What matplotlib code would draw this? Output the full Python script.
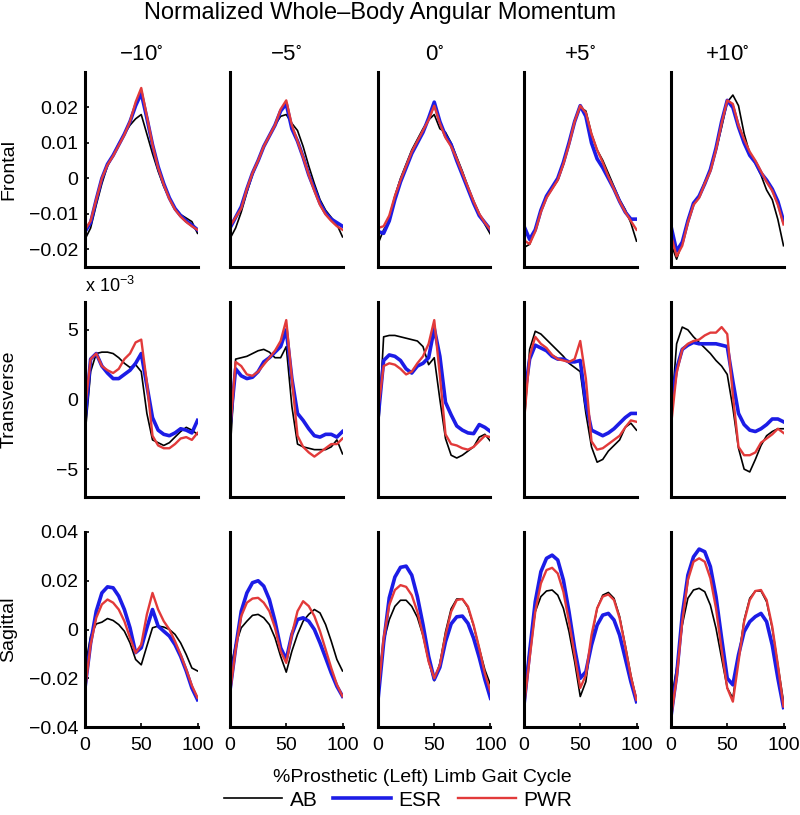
import matplotlib
matplotlib.use("Agg")
import matplotlib.pyplot as plt
from matplotlib.ticker import FixedLocator, FuncFormatter

plt.rcParams['font.family'] = ['Liberation Sans', 'DejaVu Sans']
plt.rcParams['mathtext.fontset'] = 'custom'
plt.rcParams['mathtext.rm'] = 'Liberation Sans'
plt.rcParams['mathtext.it'] = 'Liberation Sans'

# % gait cycle
gait = [0, 5, 10, 15, 20, 25, 30, 35, 40, 45, 50, 55, 60, 65, 70, 75, 80, 85, 90, 95, 100]
slopes = ['\u221210', '\u22125', '0', '+5', '+10']

# all values below are x 1e-3, one list per slope (-10, -5, 0, +5, +10)
frontal_ab = [
    [-17.2, -14, -7.5, -1.5, 3.5, 6.5, 9.8, 12.5, 15, 16.8, 18, 12.5, 7, 2, -2.3, -5.6, -8.4, -10.2, -11.2, -12.2, -15.5],
    [-17, -14, -9.5, -4, 1, 5, 9, 12, 15, 17.5, 18, 15.5, 13.5, 9, 3.5, -1.5, -6, -9, -11, -13, -16.5],
    [-18.5, -14.5, -12, -5, 0, 4, 8, 11, 14, 16.5, 18, 14, 13, 10, 6, 2, -2.5, -6.5, -10, -13, -15.8],
    [-19.5, -18.6, -14.4, -8.8, -5, -2.8, -0.5, 4, 9.8, 16.3, 20, 19, 12.6, 8, 5.1, 1.4, -2.3, -6, -8.8, -12.6, -17.7],
    [-18.5, -22.8, -18, -11.6, -7, -5.1, -1, 2.3, 7.9, 14.4, 21.5, 23.5, 20.5, 12.6, 7, 4.2, 0.9, -3.3, -6, -11.6, -19],
]
frontal_esr = [
    [-15, -12.5, -6, 0, 4, 6.5, 9.5, 12.5, 16, 20.5, 24, 17, 9.5, 3.3, -1.5, -5.5, -8.5, -10.5, -12, -13.2, -14.5],
    [-14, -11, -8, -3, 1.5, 5, 9, 12, 15, 19, 21, 14, 10.5, 6, 1, -3, -7, -9.8, -11.5, -12.5, -13.5],
    [-15, -15.5, -12, -6, -1, 3, 7, 10, 13, 17, 21.5, 16, 12, 9.5, 5, 1, -3, -7, -10.5, -12.5, -14.5],
    [-13.5, -17.2, -14.5, -9, -5, -2.5, 0, 4.5, 10, 16, 20.5, 17.5, 10, 5.5, 3, 0, -3, -6.5, -9.5, -11.5, -11.5],
    [-13.5, -20.5, -18, -12, -7, -5, -1.5, 2.5, 8.5, 16, 22, 20, 14.5, 10, 6.5, 4.5, 1.5, -0.5, -3, -6.5, -12],
]
frontal_pwr = [
    [-14.5, -12, -6, 0, 3.8, 6.3, 9.3, 12.3, 16, 21.5, 25.5, 17.5, 9.5, 3, -1.8, -5.8, -8.8, -10.8, -12.3, -13.5, -14.5],
    [-13.5, -11, -8.5, -3, 1.5, 5, 9, 12, 15, 19.5, 22, 15, 10.5, 6, 1, -3.5, -7.5, -10.2, -12, -13.5, -14.5],
    [-14, -13.5, -10.5, -5, -0.5, 3.5, 7.5, 10.5, 13.5, 16.5, 20.5, 15.5, 11.5, 9, 5.5, 1.5, -2.5, -6.5, -10, -12.5, -14.5],
    [-17.5, -18.5, -15, -9.5, -5.5, -3, -0.5, 4, 9.5, 16, 20.5, 18.5, 12.5, 8, 4.5, 0.5, -3, -6.5, -9.5, -12, -14.5],
    [-16, -22, -19, -12.5, -7.5, -5.5, -1.5, 2, 8, 15.5, 22, 21, 15, 11, 7.5, 5, 2, -1, -3.5, -7.5, -13],
]

transverse_ab = [
    [-2.6, 2.0, 3.3, 3.4, 3.4, 3.3, 3.0, 2.6, 2.3, 2.5, 2.0, -1.0, -2.9, -3.1, -3.3, -3.1, -2.7, -2.3, -2.0, -2.2, -2.5],
    [-3.9, 2.9, 3.0, 3.1, 3.3, 3.5, 3.6, 3.4, 3.0, 3.0, 3.8, -0.5, -3.2, -3.4, -3.5, -3.6, -3.6, -3.6, -3.4, -2.9, -3.9],
    [-2.8, 4.5, 4.6, 4.6, 4.5, 4.4, 4.3, 4.2, 3.8, 2.5, 3.0, 0.0, -2.8, -4.0, -4.2, -4.0, -3.7, -3.4, -2.7, -2.5, -3.0],
    [-1.9, 3.6, 4.9, 4.7, 4.3, 3.9, 3.5, 3.1, 2.6, 2.3, 2.0, -1.0, -3.4, -4.5, -4.3, -3.7, -3.3, -2.9, -2.0, -1.7, -2.2],
    [-1.2, 4.0, 5.2, 5.0, 4.5, 4.1, 3.7, 3.3, 2.8, 2.4, 1.8, -0.6, -3.5, -5.0, -5.2, -4.3, -3.3, -2.6, -2.3, -2.1, -2.1],
]
transverse_esr = [
    [-1.5, 2.9, 3.3, 2.4, 1.9, 1.5, 1.5, 1.8, 2.1, 2.6, 3.3, 1.0, -1.3, -2.2, -2.5, -2.6, -2.4, -2.1, -2.2, -2.4, -1.5],
    [-1.9, 2.2, 1.7, 1.5, 1.6, 2.0, 2.7, 3.0, 3.4, 3.8, 5.0, 1.5, -1.0, -1.5, -2.1, -2.6, -2.7, -2.5, -2.5, -2.7, -2.3],
    [-1.4, 2.8, 3.2, 3.1, 2.8, 2.2, 1.9, 2.4, 2.6, 3.0, 5.1, 3.1, -0.2, -1.1, -1.9, -2.2, -2.4, -2.45, -1.8, -2.0, -2.3],
    [0.0, 2.9, 3.9, 3.7, 3.5, 3.1, 2.9, 2.9, 2.7, 2.7, 2.8, -0.3, -2.2, -2.4, -2.6, -2.4, -2.1, -1.7, -1.3, -1.0, -1.0],
    [-0.4, 2.2, 3.6, 3.9, 4.1, 4.0, 4.0, 4.0, 4.0, 3.9, 3.8, 1.3, -1.0, -1.8, -2.2, -2.3, -2.1, -1.8, -1.4, -1.4, -1.6],
]
transverse_pwr = [
    [-0.7, 2.9, 3.3, 2.4, 2.1, 1.9, 2.2, 2.9, 3.3, 4.1, 4.3, 1.2, -2.6, -3.3, -3.5, -3.5, -3.2, -2.8, -2.7, -2.9, -2.4],
    [-2.3, 2.7, 2.4, 1.8, 1.7, 2.0, 2.5, 3.0, 3.5, 4.2, 5.7, 1.5, -2.6, -3.4, -3.8, -4.1, -3.8, -3.5, -3.2, -3.2, -2.8],
    [-0.8, 2.4, 2.6, 2.5, 2.2, 1.8, 2.0, 2.6, 3.1, 4.0, 5.7, 1.7, -2.5, -3.2, -3.3, -3.5, -3.6, -3.4, -3.0, -2.6, -2.7],
    [-1.6, 3.1, 4.5, 4.0, 3.7, 3.2, 2.9, 2.8, 2.7, 2.9, 4.2, 1.5, -3.0, -3.6, -3.5, -3.2, -2.9, -2.6, -2.0, -1.5, -1.6],
    [-1.9, 1.9, 3.6, 4.0, 4.2, 4.3, 4.6, 4.8, 4.8, 5.2, 4.7, 0.3, -3.4, -4.0, -4.0, -3.8, -3.1, -2.8, -2.5, -2.1, -2.4],
]

sagittal_ab = [
    [-15.8, -2.7, 2.3, 3.0, 4.5, 3.7, 2.0, -0.7, -5.5, -12.3, -14.5, -6.8, 0.7, 1.4, 1.0, 0.0, -2.0, -5.5, -10.3, -15.8, -17.0],
    [-17, -6.2, 0.7, 3.4, 5.8, 6.2, 4.8, 2.0, -3.4, -11, -17.5, -8.9, -2, 3.4, 6.2, 8.2, 6.8, 2.0, -4.8, -12.3, -17],
    [-22, -5, 4, 9.5, 12, 12, 9.5, 5, -2.5, -13, -21, -14, -1, 8.5, 12.5, 12.5, 9, 1.5, -7.7, -16.5, -22.7],
    [-27.5, -7.7, 7.3, 13.5, 15.8, 16.2, 14.1, 8.7, -0.9, -13.2, -27.5, -21.4, -3.6, 8.7, 14.1, 15.2, 12.8, 5.3, -6.4, -18.7, -28.9],
    [-29.6, -15.9, 1.8, 12.8, 16.2, 16.9, 15.5, 10.0, 0.5, -11.8, -24, -28.2, -11.8, 3.9, 12.8, 15.8, 15.8, 11.4, 0.5, -14.5, -29.6],
]
sagittal_esr = [
    [-24, -5.5, 7.5, 15, 17.5, 17.1, 13.7, 8.2, 0.7, -9.5, -7.5, 0.7, 8.2, 1.4, -0.7, -2.7, -6.2, -11, -17, -24, -28.8],
    [-25, -7.5, 7.5, 15, 19.2, 20, 17.8, 12.3, 3.4, -7.5, -12.3, -2, 4.1, 4.8, 3.4, 0, -5.5, -11.6, -17.8, -23.3, -27.4],
    [-29, -5.5, 13, 21.5, 25.5, 26, 22.3, 13.5, 2, -11, -20.5, -15.5, -5, 2.3, 5.2, 5.5, 2.5, -3.6, -11.5, -20.5, -28.2],
    [-31, -9.1, 11.4, 23.7, 29.2, 30.5, 28.5, 20.3, 7.3, -7.7, -20, -17.3, -6.4, 1.8, 5.9, 6.6, 3.9, -2.3, -11.8, -21.4, -29.6],
    [-35.7, -18.7, 5.9, 22.3, 29.8, 33, 31.9, 25.8, 13.5, -3.6, -20, -22.7, -10.4, -0.9, 3.2, 5.3, 6.6, 3.2, -6.4, -20, -32],
]
sagittal_pwr = [
    [-25, -6.2, 4.8, 10.3, 12.3, 11, 8.2, 3.4, -3.4, -9.6, -6.2, 6.2, 15, 8.2, 3.4, 0, -4.8, -10.3, -16.4, -23, -28],
    [-26, -8.2, 5.5, 11, 12.7, 13, 11, 7.5, 0.7, -8.9, -13.7, -2, 7.5, 11.6, 9.6, 5.5, -0.7, -8.2, -15.8, -22.6, -27.4],
    [-26.8, -3.6, 10, 16.2, 18.2, 17.5, 14.1, 7.3, -2.3, -13.2, -20, -14.5, -2.3, 7.3, 12.1, 12.5, 9.4, 1.8, -7.7, -18, -25.5],
    [-31.6, -11.8, 7.3, 18.9, 24.4, 25.3, 23, 15.5, 3.2, -10.4, -24, -18.7, -2.3, 8.7, 13.5, 14.4, 12.1, 4.6, -7, -19.3, -28.9],
    [-36.4, -20, 3.2, 20.3, 27.8, 29.2, 27.8, 21, 8.7, -8.4, -24, -29.6, -13.2, 3.2, 12.1, 15.8, 16.2, 12.1, 1.2, -14.5, -31.6],
]

rows = [
    ('Frontal', frontal_ab, frontal_esr, frontal_pwr, 1e-3, (-0.025, 0.03), [-0.02, -0.01, 0, 0.01, 0.02]),
    ('Transverse', transverse_ab, transverse_esr, transverse_pwr, 1.0, (-7, 7), [-5, 0, 5]),
    ('Sagittal', sagittal_ab, sagittal_esr, sagittal_pwr, 1e-3, (-0.04, 0.04), [-0.04, -0.02, 0, 0.02, 0.04]),
]

styles = {
    'AB': dict(color='black', lw=1.2),
    'ESR': dict(color='#1c1ce6', lw=2.6),
    'PWR': dict(color='#e23a3a', lw=1.7),
}

W, H = 800, 815
fig = plt.figure(figsize=(W / 100, H / 100), dpi=100)

col_left = [85, 230, 378, 524, 671]
row_top = [72, 302, 532]
ax_w, ax_h = 112.5, 195


def fmt(v, pos):
    s = '%g' % v
    return s.replace('-', '\u2212')


for r, (name, ab, esr, pwr, scale, ylim, yt) in enumerate(rows):
    for c in range(5):
        ax = fig.add_axes([col_left[c] / W, 1 - (row_top[r] + ax_h) / H, ax_w / W, ax_h / H])
        ax.plot(gait, [v * scale for v in ab[c]], label='AB', **styles['AB'])
        ax.plot(gait, [v * scale for v in esr[c]], label='ESR', **styles['ESR'])
        ax.plot(gait, [v * scale for v in pwr[c]], label='PWR', **styles['PWR'])
        ax.set_xlim(0, 100)
        ax.set_ylim(*ylim)
        for s in ['top', 'right']:
            ax.spines[s].set_visible(False)
        for s in ['left', 'bottom']:
            ax.spines[s].set_linewidth(2.2)
        ax.tick_params(direction='in', length=3, width=1.2, labelsize=14)
        if c == 0:
            ax.yaxis.set_major_locator(FixedLocator(yt))
            ax.yaxis.set_major_formatter(FuncFormatter(fmt))
            ax.tick_params(axis='y', pad=5)
        else:
            ax.set_yticks([])
        if r == 2:
            ax.set_xticks([0, 50, 100])
            ax.tick_params(axis='x', pad=7)
        else:
            ax.set_xticks([])
        if r == 0:
            ax.set_title(r'$\mathregular{%s^{\circ}}$' % slopes[c], fontsize=16, pad=9)
        if r == 1 and c == 0:
            ax.text(0, 1.03, r'x 10$^{\mathregular{-3}}$', transform=ax.transAxes,
                    fontsize=13, ha='left', va='bottom')
        if c == 0:
            fig.text(9 / W, 1 - (row_top[r] + ax_h / 2) / H, name, rotation=90,
                     fontsize=14, ha='center', va='center')
        if r == 2 and c == 0:
            handles, labels = ax.get_legend_handles_labels()

fig.text(380 / W, 1 - 13 / H, 'Normalized Whole\u2013Body Angular Momentum',
         fontsize=17, ha='center', va='center')
fig.text(422 / W, 1 - 778 / H, '%Prosthetic (Left) Limb Gait Cycle',
         fontsize=14, ha='center', va='center')
fig.legend(handles, labels, loc='center', bbox_to_anchor=(398 / W, 1 - 800 / H),
           ncol=3, frameon=False, fontsize=15, handlelength=2.8,
           handletextpad=0.35, columnspacing=0.75, borderaxespad=0)

fig.savefig('out.png', dpi=100)
